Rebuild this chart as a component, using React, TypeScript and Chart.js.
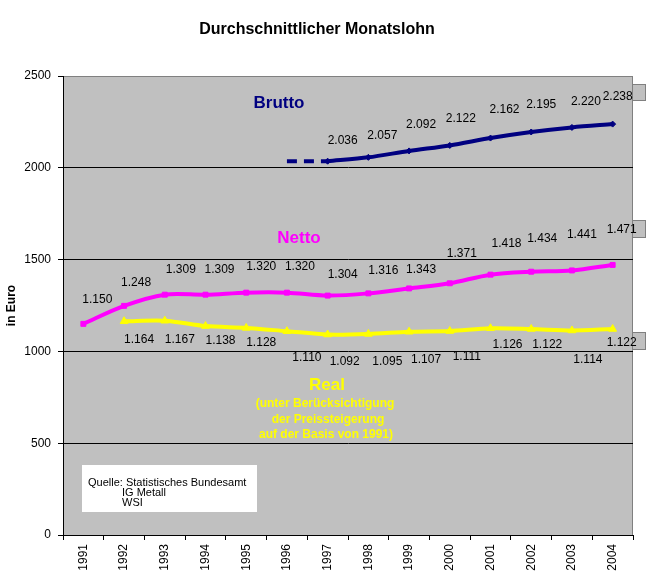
import React, { useEffect, useRef } from 'react';
import { Chart, registerables } from 'chart.js';

Chart.register(...registerables);

// ---------- data ----------
const YEARS = ['1991', '1992', '1993', '1994', '1995', '1996', '1997', '1998', '1999', '2000', '2001', '2002', '2003', '2004'];
const BRUTTO = [null, null, null, null, null, null, 2036, 2057, 2092, 2122, 2162, 2195, 2220, 2238];
const BRUTTO_TREND = [null, null, null, null, null, 2036, 2036, null, null, null, null, null, null, null];
const NETTO = [1150, 1248, 1309, 1309, 1320, 1320, 1304, 1316, 1343, 1371, 1418, 1434, 1441, 1471];
const REAL = [null, 1164, 1167, 1138, 1128, 1110, 1092, 1095, 1107, 1111, 1126, 1122, 1114, 1122];
const Y_MIN = 0;
const Y_MAX = 2500;
const Y_STEP = 500;

// ---------- label placement (offset of label centre from its point) ----------
const BRUTTO_LBL: ([number, number] | null)[] = [null, null, null, null, null, null,
  [15, -21], [14, -22], [12, -26], [11, -27], [14, -28], [10, -27], [14, -26], [5, -27]];
const NETTO_LBL: ([number, number] | null)[] = [[14, -24], [12, -23], [16, -25], [14, -25], [15, -26], [13, -26],
  [15, -21], [15, -23], [12, -19], [12, -30], [16, -31], [11, -33], [10, -36], [9, -35]];
const REAL_LBL: ([number, number] | null)[] = [null, [15, 18], [15, 19], [15, 15], [15, 15], [20, 26],
  [17, 27], [19, 28], [17, 28], [17, 26], [17, 16], [16, 16], [16, 29], [9, 14]];

const NAVY = '#000080';
const MAGENTA = '#FF00FF';
const YELLOW = '#FFFF00';
const PLOT_BG = '#C0C0C0';
const FONT = '"Liberation Sans", Arial, sans-serif';

function fmt(v: number): string {
  const th = Math.floor(v / 1000);
  const rest = String(v % 1000).padStart(3, '0');
  return th > 0 ? `${th}.${rest}` : String(v);
}

const bgPlugin = {
  id: 'plotBg',
  beforeDraw(chart: any) {
    const { ctx, chartArea: a } = chart;
    ctx.save();
    ctx.fillStyle = PLOT_BG;
    ctx.fillRect(a.left, a.top, a.right - a.left, a.bottom - a.top);
    ctx.strokeStyle = '#808080';
    ctx.lineWidth = 1;
    ctx.strokeRect(a.left + 0.5, a.top + 0.5, a.right - a.left - 1, a.bottom - a.top);
    // small boxes sticking out at the right edge
    ctx.fillStyle = PLOT_BG;
    const boxes: [number, number][] = [[84, 101], [220, 238], [332, 350]];
    for (const [t, b] of boxes) {
      ctx.fillRect(a.right - 1, t, 14, b - t);
      ctx.strokeRect(a.right - 0.5, t + 0.5, 13, b - t - 1);
    }
    ctx.restore();
  },
};

const annoPlugin = {
  id: 'annos',
  afterDatasetsDraw(chart: any) {
    const { ctx } = chart;
    ctx.save();
    const sets: [number, (number | null)[], ([number, number] | null)[]][] = [
      [1, BRUTTO, BRUTTO_LBL],
      [2, NETTO, NETTO_LBL],
      [3, REAL, REAL_LBL],
    ];
    ctx.font = `12px ${FONT}`;
    ctx.fillStyle = '#000';
    ctx.textAlign = 'center';
    ctx.textBaseline = 'middle';
    for (const [di, vals, offs] of sets) {
      const meta = chart.getDatasetMeta(di);
      vals.forEach((v, i) => {
        const o = offs[i];
        if (v == null || !o) return;
        const p = meta.data[i];
        ctx.fillText(fmt(v), p.x + o[0], p.y + o[1]);
      });
    }
    ctx.restore();
  },
  afterDraw(chart: any) {
    const { ctx } = chart;
    ctx.save();
    ctx.fillStyle = '#000';
    ctx.textAlign = 'center';
    ctx.textBaseline = 'middle';
    ctx.font = `bold 16px ${FONT}`;
    ctx.fillText('Durchschnittlicher Monatslohn', 317, 30);

    ctx.font = `bold 17px ${FONT}`;
    ctx.fillStyle = NAVY;
    ctx.fillText('Brutto', 279, 103);
    ctx.fillStyle = MAGENTA;
    ctx.fillText('Netto', 299, 238);
    ctx.fillStyle = YELLOW;
    ctx.fillText('Real', 327, 385);
    ctx.font = `bold 12px ${FONT}`;
    ctx.fillText('(unter Berücksichtigung', 325, 404);
    ctx.fillText('der Preissteigerung', 328, 420);
    ctx.fillText('auf der Basis von 1991)', 326, 435);

    ctx.fillStyle = '#FFFFFF';
    ctx.fillRect(82, 465, 175, 47);
    ctx.fillStyle = '#000';
    ctx.textAlign = 'left';
    ctx.font = `11px ${FONT}`;
    ctx.fillText('Quelle: Statistisches Bundesamt', 88, 483);
    ctx.fillText('IG Metall', 122, 493);
    ctx.fillText('WSI', 122, 503);
    ctx.restore();
  },
};

export default function App() {
  const ref = useRef<HTMLCanvasElement>(null);
  useEffect(() => {
    const canvas = ref.current!;
    const chart = new Chart(canvas, {
      type: 'line',
      data: {
        labels: YEARS,
        datasets: [
          {
            label: 'Brutto (Trend)',
            data: BRUTTO_TREND as any,
            borderColor: NAVY,
            borderWidth: 4,
            borderDash: [10, 7],
            pointRadius: 0,
            tension: 0,
          },
          {
            label: 'Brutto',
            data: BRUTTO as any,
            borderColor: NAVY,
            backgroundColor: NAVY,
            borderWidth: 4,
            pointStyle: 'rectRot',
            pointRadius: 3,
            pointBorderWidth: 1,
            tension: 0.3,
          },
          {
            label: 'Netto',
            data: NETTO,
            borderColor: MAGENTA,
            backgroundColor: MAGENTA,
            borderWidth: 4,
            pointStyle: 'rect',
            pointRadius: 3.5,
            pointBorderWidth: 1,
            tension: 0.3,
          },
          {
            label: 'Real',
            data: REAL as any,
            borderColor: YELLOW,
            backgroundColor: YELLOW,
            borderWidth: 4,
            pointStyle: 'triangle',
            pointRadius: 4.5,
            pointBorderWidth: 1,
            tension: 0.3,
          },
        ],
      },
      options: {
        responsive: false,
        animation: false,
        layout: { padding: { top: 76, right: 35, bottom: 0, left: 0 } },
        plugins: {
          legend: { display: false },
          tooltip: { enabled: false },
          title: { display: false },
        },
        scales: {
          x: {
            offset: true,
            grid: {
              display: true,
              drawOnChartArea: false,
              offset: true,
              tickLength: 5,
              color: '#000',
              tickColor: '#000',
            },
            border: { display: true, color: '#000', width: 1 },
            ticks: {
              minRotation: 90,
              maxRotation: 90,
              autoSkip: false,
              padding: 4,
              color: '#000',
              font: { family: FONT, size: 12 },
            },
            afterFit: (s: any) => { s.height = 43; },
          },
          y: {
            min: Y_MIN,
            max: Y_MAX,
            ticks: {
              stepSize: Y_STEP,
              padding: 7,
              color: '#000',
              font: { family: FONT, size: 12 },
              callback: (v: any) => String(v),
            },
            grid: {
              color: (c: any) => (c.tick && c.tick.value === Y_MAX ? 'rgba(0,0,0,0)' : '#000'),
              tickColor: '#000',
              tickLength: 5,
            },
            border: { display: true, color: '#000', width: 1 },
            title: {
              display: true,
              text: 'in Euro',
              color: '#000',
              font: { family: FONT, size: 12, weight: 'bold' },
              padding: { top: 4, bottom: 0 },
            },
            afterFit: (s: any) => { s.width = 63; },
          },
        },
      } as any,
      plugins: [bgPlugin, annoPlugin],
    });
    return () => chart.destroy();
  }, []);
  return (
    <div style={{ position: 'absolute', left: 0, top: 0, width: 668, height: 578, background: '#fff' }}>
      <canvas ref={ref} width={668} height={578} style={{ display: 'block' }} />
    </div>
  );
}
